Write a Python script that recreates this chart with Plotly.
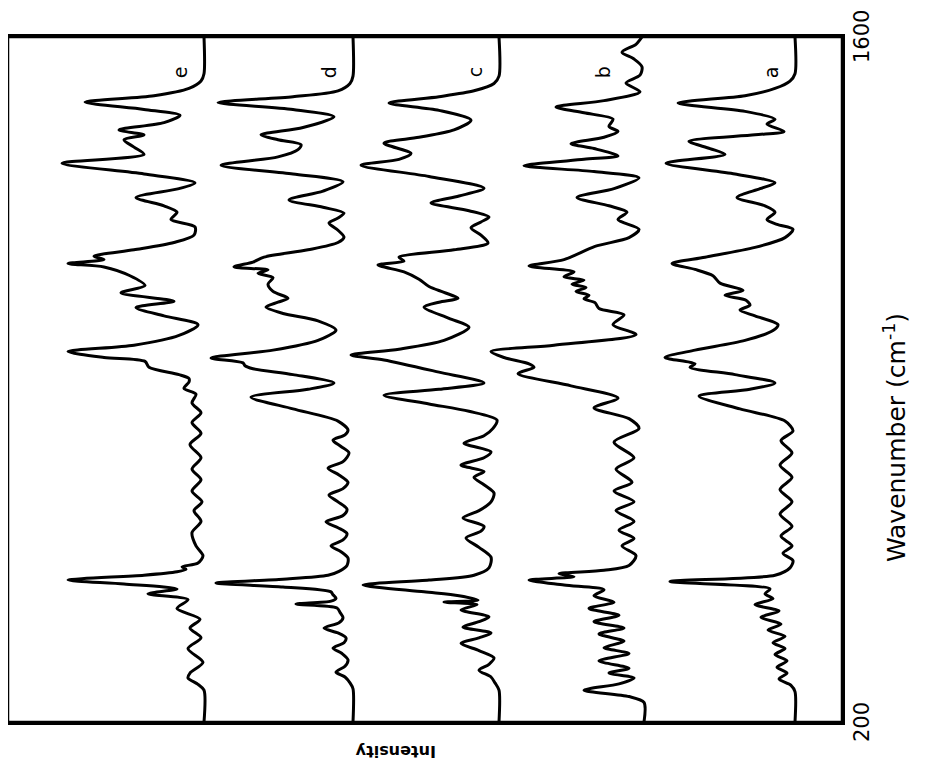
import plotly.graph_objects as go

# Wavenumber (cm-1) / intensity points, one pair of lists per spectrum
a_wn = [200,262,275,288,300,312,325,338,350,362,375,388,400,414,427,440,452,462,472,487,500,515,530,545,560,580,600,625,650,675,700,725,750,775,795,815,840,866,880,893,910,925,932,945,960,980,1000,1012,1030,1042,1052,1062,1072,1082,1097,1112,1125,1137,1150,1170,1190,1207,1217,1227,1242,1255,1272,1290,1302,1320,1342,1360,1372,1387,1400,1407,1422,1432,1448,1465,1480,1495,1510,1525,1600]
a_int = [0,0,4,16,8,18,8,20,10,22,10,27,14,34,16,40,22,30,25,125,20,5,2,12,3,14,3,15,3,15,3,15,3,14,2,10,55,96,45,20,60,105,100,130,100,50,22,17,40,55,45,49,70,52,75,82,100,123,90,40,10,2,18,28,20,30,58,35,20,60,129,70,85,106,40,11,28,20,50,117,50,20,5,0,0]

b_wn = [200,240,252,265,278,290,300,310,325,340,352,365,380,392,405,418,432,445,458,470,480,490,497,503,510,520,540,560,575,592,610,632,650,672,690,717,740,772,800,820,842,862,887,912,925,932,945,957,970,992,1012,1032,1045,1057,1065,1072,1080,1088,1095,1103,1110,1120,1132,1145,1172,1190,1207,1227,1242,1255,1272,1290,1312,1325,1337,1350,1357,1372,1382,1395,1407,1417,1432,1445,1457,1470,1488,1506,1522,1539,1555,1569,1585,1600]
b_int = [0,0,15,60,25,10,35,15,45,15,40,20,45,20,50,25,55,30,50,40,80,115,70,85,40,15,8,22,10,25,10,28,10,30,12,28,10,30,5,15,50,26,73,126,110,115,140,153,90,8,31,20,45,49,60,55,68,58,72,60,80,70,115,80,49,15,5,26,17,35,67,30,5,50,120,60,26,50,73,40,26,35,31,60,88,40,4,18,4,2,10,22,8,2]

c_wn = [200,265,280,292,306,318,331,346,361,372,382,394,405,415,429,440,445,449,458,466,480,490,500,515,537,557,576,590,600,617,632,650,668,685,700,712,725,740,752,770,785,800,817,835,850,868,880,893,915,940,950,962,980,1007,1025,1048,1058,1066,1078,1090,1105,1120,1134,1142,1150,1165,1179,1195,1210,1222,1232,1245,1261,1275,1291,1315,1338,1350,1362,1383,1395,1410,1430,1450,1465,1478,1490,1505,1520,1600]
c_int = [0,0,4,8,20,10,5,20,38,20,8,36,20,10,38,22,55,21,40,75,136,70,25,10,8,20,33,18,15,36,20,8,5,15,25,15,38,15,8,35,15,6,2,30,70,115,60,15,60,115,148,100,55,30,50,75,60,41,55,70,80,95,121,95,100,45,11,18,28,18,10,30,68,40,15,70,138,100,88,115,80,45,28,60,110,60,25,5,0,0]

d_wn = [200,268,280,292,302,314,327,340,351,362,372,382,392,403,413,424,433,441,447,453,460,466,476,484,492,500,508,520,535,548,560,572,585,597,609,622,635,650,664,677,690,705,719,732,750,763,776,787,797,815,840,864,880,893,910,922,928,934,944,960,980,1001,1020,1035,1048,1058,1066,1080,1095,1108,1117,1124,1130,1140,1150,1165,1180,1191,1205,1220,1230,1240,1252,1267,1285,1304,1320,1338,1355,1370,1380,1390,1400,1415,1437,1452,1466,1478,1490,1505,1520,1600]
d_int = [0,0,3,8,17,8,5,11,20,9,7,15,29,14,10,13,16,57,22,17,20,22,70,137,70,25,14,6,5,12,22,10,6,15,27,10,6,15,24,10,5,14,25,10,4,12,20,8,5,15,60,102,45,19,60,100,108,110,142,80,35,17,35,70,87,75,65,80,85,80,95,85,119,100,89,45,15,9,15,24,15,9,30,64,30,10,60,132,75,55,52,75,92,50,19,60,135,60,15,3,0,0]

e_wn = [200,265,277,290,300,322,350,372,392,410,432,450,462,472,482,490,500,507,512,517,525,540,560,587,610,632,650,672,695,717,740,767,790,812,832,852,870,882,895,902,910,925,937,945,957,970,990,1012,1030,1047,1060,1077,1092,1112,1130,1137,1145,1152,1165,1180,1195,1212,1227,1242,1255,1272,1290,1302,1320,1342,1360,1375,1390,1400,1410,1425,1440,1452,1467,1480,1495,1510,1525,1600]
e_int = [0,0,6,16,14,1,16,3,14,4,27,16,56,27,80,136,60,27,18,22,6,1,8,12,3,10,2,12,3,12,3,14,3,12,3,12,8,20,15,15,25,55,59,100,136,70,25,6,40,68,30,83,59,74,100,136,100,110,70,30,10,9,33,27,40,68,25,9,60,142,60,70,80,60,85,40,24,60,119,50,15,3,0,0]

wn_ticks = [200, 1600]

spectra = [("a", a_wn, a_int), ("b", b_wn, b_int), ("c", c_wn, c_int), ("d", d_wn, d_int), ("e", e_wn, e_int)]
offsets = {"a": 0, "b": 151, "c": 296, "d": 442, "e": 591}

fig = go.Figure()
for name, wn, inten in spectra:
    off = offsets[name]
    fig.add_trace(go.Scatter(
        x=[off + v for v in inten], y=wn, mode="lines",
        line=dict(color="black", width=3, shape="spline", smoothing=0.8),
        hoverinfo="skip", showlegend=False, cliponaxis=False))
    lx = off + (41 if name == "b" else 24)
    fig.add_annotation(x=lx, y=1528, text=name, showarrow=False, textangle=-90,
                       font=dict(family="DejaVu Sans", size=19, color="black"))

fig.update_layout(
    width=910, height=764,
    margin=dict(l=0, r=76, t=29, b=50),
    plot_bgcolor="white", paper_bgcolor="white",
    showlegend=False,
    xaxis=dict(range=[787, -47], showgrid=False, zeroline=False, showticklabels=False,
               ticks="", showline=True, mirror=True, linecolor="black", linewidth=2.5),
    yaxis=dict(range=[200, 1600], showticklabels=False, ticks="", showgrid=False, zeroline=False,
               showline=True, mirror=True, linecolor="black", linewidth=2.5),
)
# explicit frame edges
for yy in (0, 1):
    fig.add_shape(type="line", xref="paper", yref="paper", x0=0, x1=1, y0=yy, y1=yy,
                  line=dict(color="black", width=2.5), layer="above")
for xx in (0, 1):
    fig.add_shape(type="line", xref="paper", yref="paper", x0=xx, x1=xx, y0=0, y1=1,
                  line=dict(color="black", width=2.5), layer="above")
for t in wn_ticks:
    fig.add_annotation(xref="paper", yref="y", x=1.024, y=t, text=str(t), showarrow=False,
                       textangle=-90, xanchor="center", yanchor="middle",
                       font=dict(family="DejaVu Sans", size=21, color="black"))
fig.add_annotation(xref="paper", yref="paper", x=1.064, y=0.415, text="Wavenumber (cm<sup>-1</sup>)",
                   showarrow=False, textangle=-90, xanchor="center", yanchor="middle",
                   font=dict(family="DejaVu Sans", size=25, color="black"))
fig.add_annotation(xref="paper", yref="paper", x=0.464, y=-0.042, text="<b>Intensity</b>",
                   showarrow=False, textangle=180, xanchor="center", yanchor="middle",
                   font=dict(family="DejaVu Sans", size=16, color="black"))

fig.write_html("out.html")
